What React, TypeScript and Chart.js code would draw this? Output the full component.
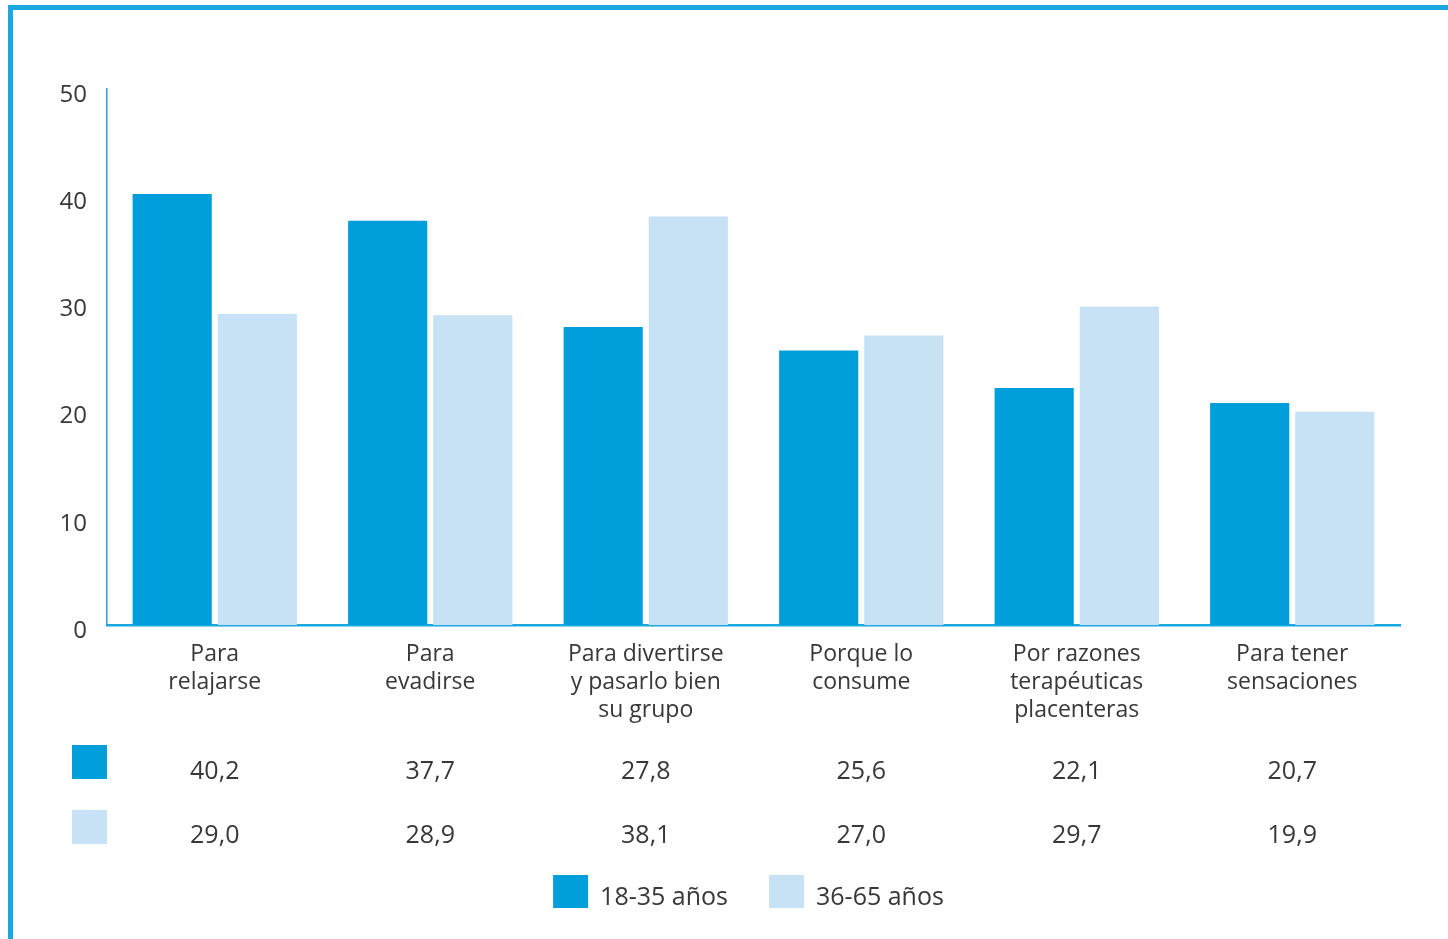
import React, { useEffect, useRef } from "react";
import { Chart, registerables } from "chart.js";

Chart.register(...registerables);

const categories: string[][] = [
  ["Para", "relajarse"],
  ["Para", "evadirse"],
  ["Para divertirse", "y pasarlo bien", "su grupo"],
  ["Porque lo", "consume"],
  ["Por razones", "terapéuticas", "placenteras"],
  ["Para tener", "sensaciones"],
];
const young: number[] = [40.2, 37.7, 27.8, 25.6, 22.1, 20.7];
const older: number[] = [29.0, 28.9, 38.1, 27.0, 29.7, 19.9];
const seriesNames: string[] = ["18-35 años", "36-65 años"];
const yTicks: number[] = [0, 10, 20, 30, 40, 50];

const DARK = "#009fdb";
const LIGHT = "#c6e2f4";
const CYAN = "#1ba7df";
const TEXT = "#383838";
const FONT = "'Open Sans', 'Noto Sans', sans-serif";

const fmt = (v: number) => v.toFixed(1).replace(".", ",");

const tablePlugin = {
  id: "tableAndLegend",
  afterDraw(chart: any) {
    const { ctx, chartArea, scales } = chart;
    const x = scales.x;
    const base = chartArea.bottom;
    const rows = [young, older];
    const colors = [DARK, LIGHT];
    ctx.save();
    ctx.font = `25px ${FONT}`;
    ctx.fillStyle = TEXT;
    ctx.textAlign = "center";
    ctx.textBaseline = "middle";
    rows.forEach((vals, r) => {
      const rowY = base + 147 + r * 64;
      ctx.fillStyle = colors[r];
      ctx.fillRect(59, base + 120 + r * 65, 35, 34);
      ctx.fillStyle = TEXT;
      vals.forEach((v, j) => {
        ctx.fillText(fmt(v), x.getPixelForValue(j), rowY);
      });
    });
    // legend
    ctx.font = `25px ${FONT}`;
    const sw = 35;
    const gapSwText = 12;
    const gapItems = 41;
    const w1 = ctx.measureText(seriesNames[0]).width;
    const w2 = ctx.measureText(seriesNames[1]).width;
    const total = sw + gapSwText + w1 + gapItems + sw + gapSwText + w2;
    const cx = (chartArea.left + chartArea.right) / 2 - 5;
    let lx = cx - total / 2;
    const ly = base + 250;
    ctx.textAlign = "left";
    [0, 1].forEach((i) => {
      ctx.fillStyle = colors[i];
      ctx.fillRect(lx, ly, sw, 33);
      lx += sw + gapSwText;
      ctx.fillStyle = TEXT;
      ctx.fillText(seriesNames[i], lx, ly + 23);
      lx += (i === 0 ? w1 : w2) + gapItems;
    });
    ctx.restore();
  },
};

export default function App() {
  const ref = useRef<HTMLCanvasElement | null>(null);
  useEffect(() => {
    if (!ref.current) return;
    const chart = new Chart(ref.current, {
      type: "bar",
      data: {
        labels: categories,
        datasets: [
          {
            label: seriesNames[0],
            data: young,
            backgroundColor: DARK,
            categoryPercentage: 0.79,
            barPercentage: 0.93,
          },
          {
            label: seriesNames[1],
            data: older,
            backgroundColor: LIGHT,
            categoryPercentage: 0.79,
            barPercentage: 0.93,
          },
        ],
      },
      options: {
        responsive: false,
        animation: false,
        layout: { padding: { top: 79, right: 48, left: 0, bottom: 0 } },
        plugins: {
          legend: { display: false },
          tooltip: { enabled: false },
          title: { display: false },
        },
        scales: {
          x: {
            grid: { display: false },
            border: { display: true, color: CYAN, width: 2.5 },
            ticks: {
              color: TEXT,
              font: { family: FONT, size: 23, lineHeight: 1.2 },
              padding: 8,
              maxRotation: 0,
              autoSkip: false,
            },
            afterFit: (scale: any) => {
              scale.height = 314;
            },
          },
          y: {
            min: 0,
            max: 50,
            grid: { display: false },
            border: { display: true, color: "#2a9fd6", width: 1.5 },
            afterBuildTicks: (scale: any) => {
              scale.ticks = yTicks.map((v) => ({ value: v }));
            },
            ticks: {
              color: TEXT,
              font: { family: FONT, size: 24 },
              padding: 12,
              labelOffset: 6,
              callback: (v: any) => String(v),
            },
            afterFit: (scale: any) => {
              scale.width = 94;
            },
          },
        },
      },
      plugins: [tablePlugin],
    });
    return () => chart.destroy();
  }, []);

  return (
    <div
      style={{
        position: "fixed",
        left: 8,
        top: 5,
        right: 0,
        bottom: 0,
        borderTop: `5px solid ${CYAN}`,
        borderLeft: `5px solid ${CYAN}`,
        background: "#fff",
      }}
    >
      <canvas ref={ref} width={1435} height={929} style={{ display: "block" }} />
    </div>
  );
}
